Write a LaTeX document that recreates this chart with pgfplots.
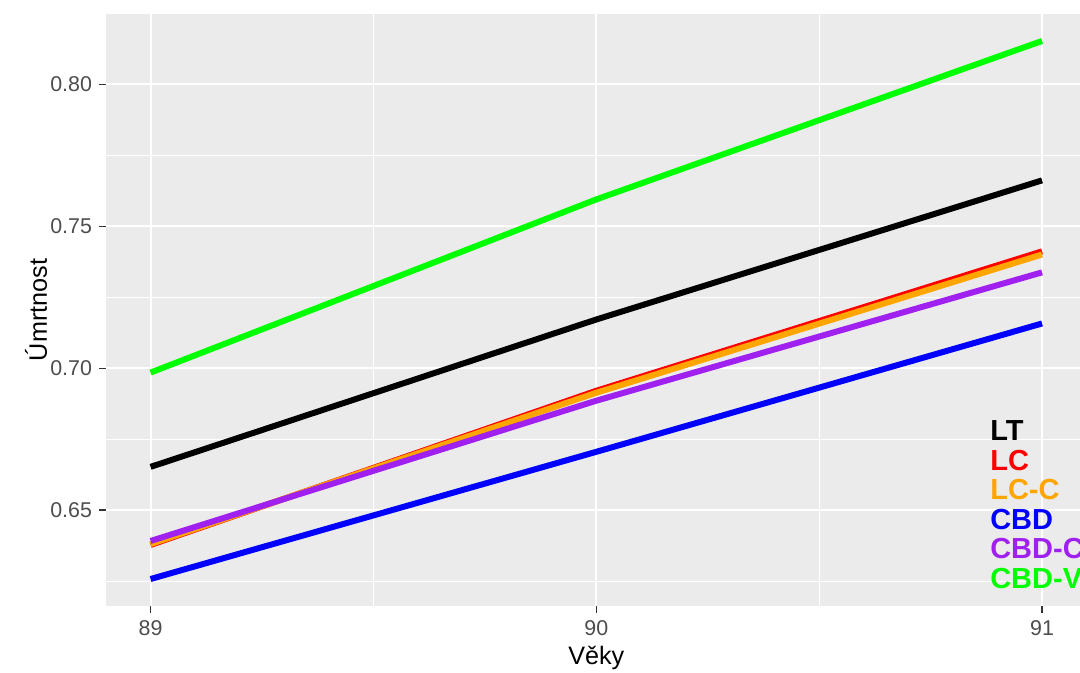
\documentclass[border=0pt]{standalone}
\usepackage{pgfplots}
\pgfplotsset{compat=1.18}
\usepackage{fontspec}
\setmainfont{Liberation Sans}
\definecolor{panel}{HTML}{EBEBEB}
\definecolor{tickgray}{HTML}{4D4D4D}
\definecolor{tickmark}{HTML}{333333}
\definecolor{lcc}{HTML}{FFA500}
\definecolor{cbdc}{HTML}{A020F0}
\definecolor{cbdv}{HTML}{00FF00}
\begin{document}
\begin{tikzpicture}
\begin{axis}[
  name=ax,
  scale only axis,
  width=490.3pt, height=296pt,
  xmin=88.9, xmax=91.1,
  ymin=0.6162, ymax=0.8247,
  axis background/.style={fill=panel},
  axis line style={draw=none},
  xtick={89,90,91},
  ytick={0.65,0.70,0.75,0.80},
  minor xtick={89.5,90.5},
  minor ytick={0.625,0.675,0.725,0.775},
  yticklabels={0.65,0.70,0.75,0.80},
  xticklabels={89,90,91},
  grid=both,
  major grid style={white, line width=1pt},
  minor grid style={white, line width=0.5pt},
  tick align=outside,
  tickpos=left,
  major tick length=3.5pt,
  minor tick length=0pt,
  tick style={tickmark, line width=0.55pt},
  ticklabel style={font=\fontsize{10.7}{13}\selectfont, text=tickgray},
  /pgf/number format/assume math mode=true,
  xlabel={Věky},
  ylabel={Úmrtnost},
  every axis x label/.style={at={(axis description cs:0.5,0)}, anchor=base, yshift=-29.5pt, font=\fontsize{12.6}{15}\selectfont},
  every axis y label/.style={at={(axis description cs:0,0.5)}, anchor=base, rotate=90, yshift=29.5pt, font=\fontsize{12.6}{15}\selectfont},
  clip=false,
]
\addplot[black, line width=3pt] coordinates {(89,0.6652) (90,0.7171) (91,0.7661)};
\addplot[red, line width=3pt] coordinates {(89,0.6377) (90,0.6920) (91,0.7411)};
\addplot[lcc, line width=3pt] coordinates {(89,0.6380) (90,0.6913) (91,0.7400)};
\addplot[blue, line width=3pt] coordinates {(89,0.6257) (90,0.6705) (91,0.7157)};
\addplot[cbdc, line width=3pt] coordinates {(89,0.6391) (90,0.6885) (91,0.7337)};
\addplot[cbdv, line width=3pt] coordinates {(89,0.6984) (90,0.7594) (91,0.8152)};
\begin{scope}[every node/.style={anchor=base west, inner sep=0pt, font=\fontsize{14.5}{17}\selectfont\bfseries}]
\node[text=black] at (axis cs:90.883,0.6744) {LT};
\node[text=red] at (axis cs:90.883,0.6640) {LC};
\node[text=lcc] at (axis cs:90.883,0.6536) {LC-C};
\node[text=blue] at (axis cs:90.883,0.6432) {CBD};
\node[text=cbdc] at (axis cs:90.883,0.6328) {CBD-C};
\node[text=cbdv] at (axis cs:90.883,0.6224) {CBD-V};
\end{scope}
\end{axis}
\pgfresetboundingbox
\path[use as bounding box] ([shift={(-53pt,-33.5pt)}]ax.south west) rectangle ([shift={(487pt,303pt)}]ax.south west);
\end{tikzpicture}
\end{document}
